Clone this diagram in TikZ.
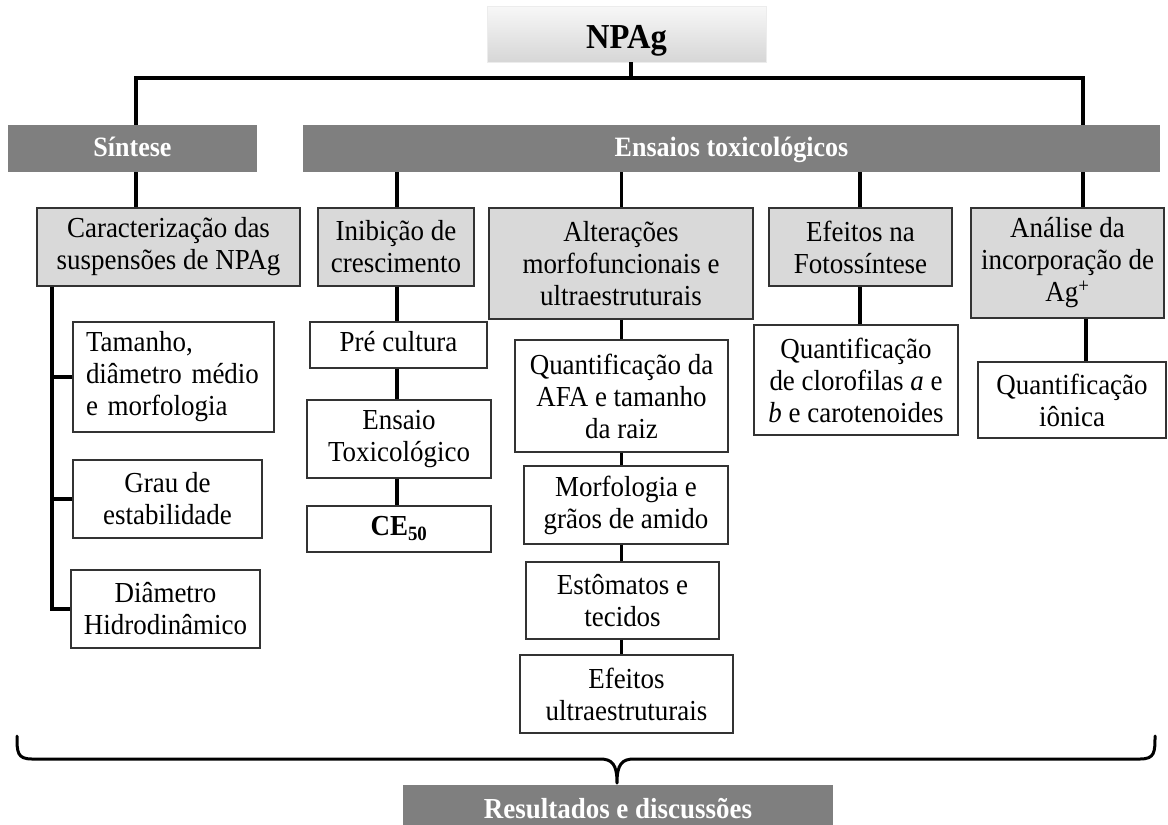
\documentclass[tikz,border=0pt]{standalone}
\usepackage{fontspec}
\setmainfont{Liberation Serif}[FakeStretch=0.93]
\usetikzlibrary{calc}
\definecolor{barg}{HTML}{7F7F7F}
\definecolor{midg}{HTML}{D9D9D9}
\definecolor{edgec}{HTML}{333333}
\begin{document}
\begin{tikzpicture}[x=1pt,y=-1pt,
  txt/.style={font=\fontsize{29}{32}\selectfont, inner sep=0pt, align=center, text=black},
  barbox/.style={txt, fill=barg, text=white, font=\fontsize{28}{32}\selectfont\bfseries, text height=20pt, text depth=4pt},
  midbox/.style={txt, fill=midg, draw=edgec, line width=1.3pt},
  leafbox/.style={txt, fill=white, draw=edgec, line width=1.3pt},
  oneline/.style={text height=19pt, text depth=6pt},
  topbox/.style={inner sep=0pt, top color=gray!6, bottom color=gray!32, draw=gray!15, line width=0.6pt, font=\fontsize{35}{38}\selectfont\bfseries, text height=28pt, text depth=0pt},
  conn/.style={line width=3.5pt, black},
  brace/.style={line width=3pt, black, line cap=round, line join=round}
]
\useasboundingbox (0,0) rectangle (1168,825);
\clip (0,0) rectangle (1168,825);
\fill[white] (0,0) rectangle (1168,825);

% top
\node[topbox, minimum width=279, minimum height=56] (npag) at (626.5,34) {NPAg};

% bars
\node[barbox, minimum width=249, minimum height=47] (sint) at (132.5,148.5) {Síntese};
\node[barbox, minimum width=857, minimum height=47] (ens) at (731.5,148.5) {Ensaios toxicológicos};

% second level
\node[midbox, minimum width=263, minimum height=78] (carac) at (168.5,247) {Caracterização das\\suspensões de NPAg};
\node[midbox, minimum width=156, minimum height=78] (inib) at (396,247) {Inibição de\\crescimento};
\node[midbox, minimum width=264, minimum height=111] (alt) at (621,263.5) {Alterações\\morfofuncionais e\\ultraestruturais};
\node[midbox, minimum width=183, minimum height=78] (efe) at (860.5,247) {Efeitos na\\Fotossíntese};
\node[midbox, minimum width=193, minimum height=110] (ana) at (1067.5,263) {Análise da\\incorporação de\\Ag\textsuperscript{+}};

% leaves: left column
\node[leafbox, minimum width=201, minimum height=110, text width=175pt, inner xsep=13pt, align=left] (tam) at (173.5,377) {Tamanho,\\diâmetro médio\\e morfologia};
\node[leafbox, minimum width=189, minimum height=78] (grau) at (167.5,499) {Grau de\\estabilidade};
\node[leafbox, minimum width=189, minimum height=78] (diam) at (165.5,609) {Diâmetro\\Hidrodinâmico};

% leaves: inibicao
\node[leafbox, oneline, minimum width=177, minimum height=46] (pre) at (398.5,345) {Pré cultura};
\node[leafbox, minimum width=184, minimum height=78] (ensaio) at (399,439) {Ensaio\\Toxicológico};
\node[leafbox, oneline, minimum width=184, minimum height=46] (ce) at (399,529) {\textbf{CE\textsubscript{50}}};

% leaves: alteracoes
\node[leafbox, minimum width=213, minimum height=112] (afa) at (621.5,396) {Quantificação da\\AFA e tamanho\\da raiz};
\node[leafbox, minimum width=204, minimum height=78] (morf) at (626,505) {Morfologia e\\grãos de amido};
\node[leafbox, minimum width=193, minimum height=77] (esto) at (622.5,600.5) {Estômatos e\\tecidos};
\node[leafbox, minimum width=213, minimum height=78] (efu) at (626.5,694) {Efeitos\\ultraestruturais};

% leaves: fotossintese, analise
\node[leafbox, minimum width=204, minimum height=110] (cloro) at (856,380) {Quantificação\\de clorofilas \textit{a} e\\\textit{b} e carotenoides};
\node[leafbox, minimum width=188, minimum height=76] (ion) at (1072,400) {Quantificação\\iônica};

% bottom
\node[barbox, font=\fontsize{29}{32}\selectfont\bfseries, minimum width=430, minimum height=52, text height=20pt, text depth=6pt] (res) at (618,811) {Resultados e discussões};

% coordinates for connector lines
\coordinate (hub) at (631,78);
\coordinate (tL) at (136,78);
\coordinate (tR) at (1083,78);
\coordinate (cl) at (52,0);
\coordinate (xi) at (397,0);
\coordinate (xa) at (621.5,0);
\coordinate (xe) at (860,0);
\coordinate (xn) at (1086,0);

% top connectors
\draw[conn] (hub |- npag.south) -- (hub);
\draw[conn] (tL |- sint.north) -- (tL) -- (tR) -- (tR |- ens.north);

% bars to second level
\draw[conn] (tL |- sint.south) -- (tL |- carac.north);
\draw[conn] (xi |- ens.south) -- (xi |- inib.north);
\draw[conn] (xa |- ens.south) -- (xa |- alt.north);
\draw[conn] (xe |- ens.south) -- (xe |- efe.north);
\draw[conn] (tR |- ens.south) -- (tR |- ana.north);

% left trunk
\draw[conn] (cl |- carac.south) -- (cl |- diam.west) -- (diam.west);
\draw[conn] (cl |- tam.west) -- (tam.west);
\draw[conn] (cl |- grau.west) -- (grau.west);

% inibicao chain
\draw[conn] (xi |- inib.south) -- (xi |- pre.north);
\draw[conn] (xi |- pre.south) -- (xi |- ensaio.north);
\draw[conn] (xi |- ensaio.south) -- (xi |- ce.north);

% alteracoes chain
\draw[conn] (xa |- alt.south) -- (xa |- afa.north);
\draw[conn] (xa |- afa.south) -- (xa |- morf.north);
\draw[conn] (xa |- morf.south) -- (xa |- esto.north);
\draw[conn] (xa |- esto.south) -- (xa |- efu.north);

% fotossintese, analise
\draw[conn] (xe |- efe.south) -- (xe |- cloro.north);
\draw[conn] (xn |- ana.south) -- (xn |- ion.north);

% brace
\coordinate (bL) at (17,736);
\coordinate (bR) at (1155,736);
\coordinate (btip) at (617,783);
\draw[brace] (bL) .. controls (17,752) and (17,759) .. (32,759) -- (600,759)
  .. controls (612,759) and (617,764) .. (btip)
  .. controls (617,764) and (622,759) .. (634,759) -- (1140,759)
  .. controls (1155,759) and (1155,752) .. (bR);
\end{tikzpicture}
\end{document}
